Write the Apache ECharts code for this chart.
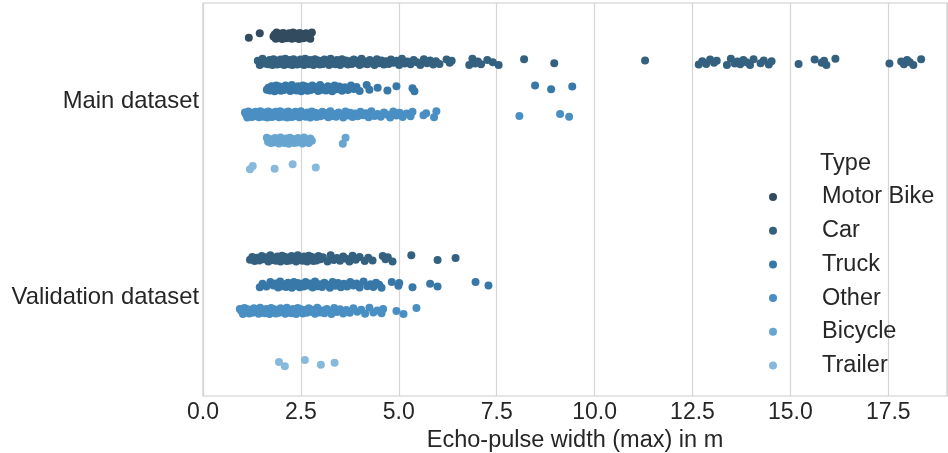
<!DOCTYPE html>
<html>
<head>
<meta charset="utf-8">
<script src="https://cdn.jsdelivr.net/npm/echarts@6/dist/echarts.min.js"></script>
<style>
html,body{margin:0;padding:0;background:#fff;}
#chart{width:948px;height:453px;}
</style>
</head>
<body>
<div id="chart"></div>
<script>
// ---- categories ----
const datasets = ['Main dataset', 'Validation dataset'];
const types = ['Motor Bike', 'Car', 'Truck', 'Other', 'Bicycle', 'Trailer'];
const xTicks = [0, 2.5, 5, 7.5, 10, 12.5, 15, 17.5];

// ---- Main dataset values (echo-pulse width in m) ----
const mainMotorBike = [1.17,1.45,1.80,1.83,1.86,1.88,1.91,1.93,1.95,1.98,2.00,2.02,2.05,2.07,2.10,2.12,2.15,2.17,2.20,2.22,2.25,2.27,2.30,2.32,2.35,2.37,2.40,2.42,2.45,2.47,2.50,2.52,2.55,2.57,2.60,2.63,2.66,2.70,2.74,2.78];
const mainCar = [1.40,1.45,1.52,1.58,1.62,1.66,1.70,1.74,1.77,1.80,1.83,1.86,1.89,1.92,1.95,1.98,2.01,2.04,2.07,2.10,2.13,2.16,2.19,2.22,2.25,2.28,2.31,2.34,2.37,2.40,2.43,2.46,2.49,2.52,2.55,2.58,2.61,2.64,2.67,2.70,2.74,2.78,2.82,2.86,2.90,2.94,2.98,3.02,3.06,3.10,3.14,3.18,3.22,3.26,3.30,3.34,3.38,3.42,3.46,3.50,3.55,3.60,3.65,3.70,3.75,3.80,3.85,3.90,3.95,4.00,4.05,4.10,4.15,4.20,4.26,4.32,4.38,4.44,4.50,4.56,4.62,4.68,4.74,4.80,4.87,4.94,5.01,5.08,5.15,5.22,5.30,5.38,5.46,5.55,5.64,5.72,5.80,5.88,5.95,6.04,6.22,6.30,6.35,6.80,6.88,6.95,7.02,7.10,7.26,7.40,7.55,8.20,8.97,11.29,12.66,12.75,12.85,12.95,13.05,13.12,13.38,13.48,13.58,13.65,13.72,13.80,13.88,13.97,14.06,14.24,14.32,14.45,14.52,15.21,15.62,15.80,15.86,15.92,16.15,17.53,17.83,17.90,17.98,18.05,18.14,18.34];
const mainTruck = [1.63,1.67,1.71,1.75,1.79,1.83,1.87,1.91,1.95,1.99,2.03,2.07,2.11,2.15,2.19,2.23,2.27,2.31,2.35,2.39,2.43,2.47,2.51,2.55,2.59,2.63,2.67,2.71,2.75,2.79,2.84,2.89,2.94,2.99,3.04,3.09,3.14,3.19,3.24,3.30,3.36,3.42,3.48,3.55,3.62,3.70,3.78,3.85,3.92,4.00,4.18,4.25,4.46,4.71,4.94,5.35,5.40,8.48,8.89,9.43];
const mainOther = [1.07,1.10,1.13,1.16,1.19,1.22,1.25,1.28,1.31,1.34,1.37,1.40,1.43,1.46,1.49,1.52,1.55,1.58,1.61,1.64,1.67,1.70,1.73,1.76,1.79,1.82,1.85,1.88,1.91,1.94,1.97,2.00,2.03,2.06,2.09,2.12,2.15,2.18,2.21,2.24,2.27,2.30,2.33,2.36,2.39,2.42,2.46,2.50,2.54,2.58,2.62,2.66,2.70,2.74,2.78,2.82,2.86,2.90,2.95,3.00,3.05,3.10,3.15,3.20,3.25,3.30,3.35,3.40,3.46,3.52,3.58,3.64,3.70,3.76,3.82,3.88,3.95,4.02,4.09,4.16,4.23,4.30,4.38,4.46,4.54,4.62,4.70,4.78,4.86,4.94,5.02,5.10,5.20,5.30,5.35,5.63,5.70,5.90,5.96,8.08,9.12,9.35];
const mainBicycle = [1.63,1.66,1.70,1.73,1.77,1.80,1.84,1.87,1.91,1.94,1.98,2.01,2.05,2.08,2.12,2.15,2.19,2.22,2.26,2.29,2.33,2.36,2.40,2.43,2.47,2.50,2.54,2.58,2.62,2.66,2.70,2.74,2.78,3.57,3.64];
const mainTrailer = [1.20,1.27,1.83,2.29,2.88];

// ---- Validation dataset values ----
const valMotorBike = [];
const valCar = [1.20,1.26,1.32,1.38,1.44,1.50,1.56,1.62,1.67,1.72,1.77,1.82,1.86,1.90,1.94,1.98,2.02,2.06,2.10,2.14,2.18,2.22,2.26,2.30,2.34,2.38,2.42,2.46,2.50,2.54,2.58,2.62,2.66,2.70,2.74,2.78,2.82,2.86,2.90,2.95,3.00,3.06,3.18,3.26,3.34,3.42,3.50,3.58,3.66,3.74,3.82,3.90,4.00,4.13,4.22,4.33,4.59,4.66,4.72,4.84,5.32,5.99,6.45];
const valTruck = [1.45,1.52,1.62,1.72,1.80,1.86,1.92,1.97,2.02,2.07,2.12,2.17,2.22,2.27,2.32,2.37,2.42,2.47,2.52,2.57,2.62,2.68,2.74,2.80,2.86,2.92,2.98,3.04,3.10,3.17,3.24,3.31,3.38,3.45,3.52,3.60,3.68,3.76,3.84,3.92,4.00,4.10,4.20,4.28,4.35,4.42,4.50,4.56,4.82,4.99,5.01,5.35,5.80,5.99,6.96,7.29];
const valOther = [0.94,0.98,1.02,1.06,1.10,1.14,1.18,1.22,1.26,1.30,1.34,1.38,1.42,1.46,1.50,1.54,1.58,1.62,1.66,1.70,1.74,1.78,1.82,1.86,1.90,1.94,1.98,2.02,2.06,2.10,2.14,2.18,2.22,2.26,2.30,2.34,2.38,2.42,2.46,2.50,2.55,2.60,2.65,2.70,2.75,2.80,2.86,2.92,2.98,3.04,3.10,3.16,3.22,3.28,3.35,3.42,3.50,3.58,3.66,3.75,3.84,3.94,4.04,4.14,4.25,4.35,4.45,4.56,4.60,4.94,5.12,5.45];
const valBicycle = [];
const valTrailer = [1.94,2.09,2.60,3.01,3.36];

// ---- styling ----
const colors = ['#324b5f', '#34617f', '#3878a9', '#4a8fc3', '#68a5d1', '#87b9dd'];
const jitter = [0.010,-0.013,0.004,-0.006,0.015,-0.016,0.008,-0.002,0.012,-0.010,0.001,0.016,-0.014,0.006,-0.008,0.013,-0.004];
const FONT = 'Liberation Sans, Arial, sans-serif';
const TXT = '#262626';

const byType = [
  [mainMotorBike, valMotorBike],
  [mainCar, valCar],
  [mainTruck, valTruck],
  [mainOther, valOther],
  [mainBicycle, valBicycle],
  [mainTrailer, valTrailer]
];

const nHue = types.length;
const dodgeW = 0.8 / nHue;
const series = types.map((t, i) => {
  const off = -0.4 + dodgeW * (i + 0.5);
  const data = [];
  let k = i * 3;
  byType[i].forEach((vals, d) => {
    vals.forEach(v => {
      data.push([v, d + off + jitter[k % jitter.length]]);
      k++;
    });
  });
  return {
    name: t,
    type: 'scatter',
    xAxisIndex: 0,
    yAxisIndex: 1,
    data: data,
    symbol: 'circle',
    symbolSize: 8,
    itemStyle: { color: colors[i], opacity: 1 },
    emphasis: { disabled: true },
    silent: true
  };
});

const chart = echarts.init(document.getElementById('chart'), null, { renderer: 'canvas' });
chart.setOption({
  animation: false,
  backgroundColor: '#ffffff',
  textStyle: { fontFamily: FONT },
  title: {
    text: 'Type',
    left: 815,
    top: 147,
    textStyle: { fontFamily: FONT, fontSize: 23.5, fontWeight: 'normal', color: TXT }
  },
  legend: {
    orient: 'vertical',
    left: 764,
    top: 179,
    icon: 'circle',
    itemWidth: 8,
    itemHeight: 8,
    itemGap: 7.7,
    data: types,
    textStyle: { fontFamily: FONT, fontSize: 23.5, color: TXT, lineHeight: 26, padding: [0, 0, 0, 40] },
    selectedMode: false
  },
  grid: {
    left: 203, right: 1, top: 3, bottom: 57,
    outerBoundsMode: 'none',
    containLabel: false,
    show: true, borderColor: '#cccccc', borderWidth: 1.2, backgroundColor: 'transparent'
  },
  xAxis: {
    type: 'value',
    min: 0,
    max: 19,
    interval: 2.5,
    axisLine: { show: false },
    axisTick: { show: false },
    splitLine: { show: true, lineStyle: { color: '#d5d5d5', width: 1.2 } },
    axisLabel: {
      fontFamily: FONT, fontSize: 23, color: TXT, margin: 5,
      showMaxLabel: false,
      formatter: v => (xTicks.indexOf(v) >= 0 ? v.toFixed(1) : '')
    },
    name: 'Echo-pulse width (max) in m',
    nameLocation: 'middle',
    nameGap: 33,
    nameTextStyle: { fontFamily: FONT, fontSize: 23.5, color: TXT }
  },
  yAxis: [
    {
      type: 'category',
      data: datasets,
      inverse: true,
      axisLine: { show: false },
      axisTick: { show: false },
      splitLine: { show: false },
      axisLabel: { fontFamily: FONT, fontSize: 23.8, color: TXT, margin: 4 }
    },
    {
      type: 'value',
      min: -0.5,
      max: 1.5,
      inverse: true,
      show: false,
      splitLine: { show: false }
    }
  ],
  series: series
});
</script>
</body>
</html>
